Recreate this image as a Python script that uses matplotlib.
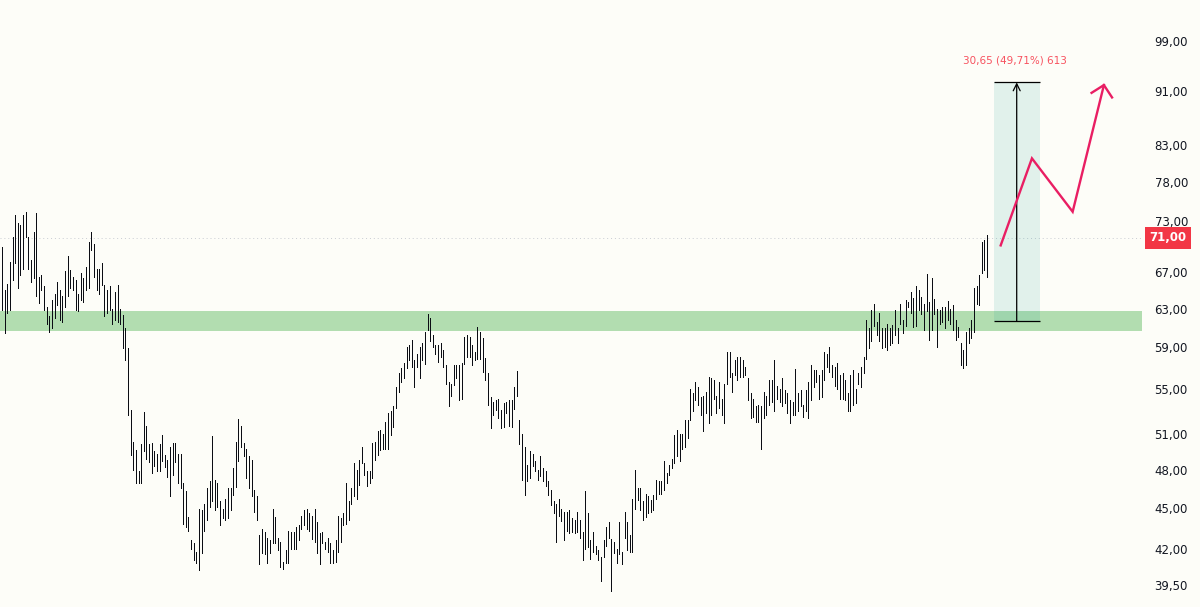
import matplotlib
matplotlib.use("Agg")
import matplotlib.pyplot as plt
import numpy as np

# bar highs / lows, left to right
highs = [
    69.9, 65.0, 65.7, 68.2, 71.1, 73.8, 72.8, 72.6, 73.8, 74.2,
    71.1, 68.4, 71.7, 74.1, 66.5, 66.7, 65.4, 63.2, 62.2, 63.9,
    64.6, 65.9, 65.0, 64.4, 67.1, 68.8, 67.3, 66.5, 66.1, 64.6,
    66.9, 66.3, 67.6, 70.5, 71.7, 70.3, 67.4, 67.4, 68.0, 65.6,
    65.0, 65.5, 63.0, 64.8, 65.6, 63.0, 62.3, 61.0, 58.9, 53.1,
    50.3, 49.6, 47.9, 50.1, 52.9, 51.7, 50.1, 50.2, 49.5, 49.3,
    50.1, 50.9, 49.2,
    48.8, 49.9, 50.2, 50.2, 49.3, 49.3, 46.9, 46.3, 44.3, 42.6,
    42.4, 41.8, 44.9, 44.8, 45.3, 46.5, 47.1, 50.8, 47.2, 46.9,
    45.5, 44.9, 45.7, 46.5, 46.5, 48.1, 50.3, 52.3, 51.7, 50.2,
    49.7, 49.1, 48.8, 46.4, 45.9, 43.0, 43.4, 43.2, 42.8, 42.6,
    44.9, 44.3, 42.8, 42.5, 41.1, 41.9, 43.3, 43.2, 43.2, 43.6,
    43.7, 44.4, 44.8, 44.9, 44.6, 44.4, 44.9,
    43.9, 43.1, 43.2, 42.5, 42.8, 42.4, 41.9, 42.6, 44.4, 44.2,
    44.6, 46.9, 45.5, 46.5, 48.5, 48.0, 48.8, 49.9, 48.5, 47.9,
    47.9, 50.2, 50.3, 51.2, 51.3, 51.0, 52.0, 52.8, 53.0, 53.4,
    55.2, 56.5, 57.0, 57.5, 59.0, 59.2, 59.7, 57.8, 58.4, 59.0,
    59.4, 60.6, 62.4, 62.0, 60.3, 59.2, 59.2, 59.4, 58.7, 57.3,
    55.7, 55.5, 57.3, 57.3, 57.3, 57.5, 60.1, 60.3, 60.1, 59.2,
    58.5, 61.1, 60.6, 59.9,
    58.0, 56.5, 54.3, 53.8, 54.0, 54.1, 53.1, 53.7, 53.8, 54.0,
    54.0, 55.2, 56.7, 52.2, 51.0, 49.9, 48.4, 49.5, 49.3, 48.7,
    48.0, 49.1, 48.1, 47.9, 47.1, 46.4, 45.5, 45.3, 45.7, 44.9,
    44.7, 44.7, 44.8, 44.2, 44.1, 44.7, 44.1, 43.2, 46.3, 44.6,
    42.6, 43.2, 42.2, 41.9, 41.4, 42.6, 43.6, 43.9, 42.7, 42.5,
    42.0, 43.9, 41.8, 44.7, 43.9, 43.0, 45.7, 48.0, 46.5, 46.5,
    45.5, 46.1, 45.9, 45.6,
    46.0, 47.2, 47.1, 47.1, 48.7, 47.7, 48.4, 48.9, 50.9, 51.3,
    51.0, 51.0, 52.2, 52.2, 55.0, 54.6, 55.7, 55.2, 54.3, 54.4,
    54.7, 56.1, 56.0, 55.8, 54.4, 55.7, 54.1, 55.5, 58.5, 58.5,
    56.5, 57.8, 58.1, 58.1, 57.8, 57.1, 56.0, 54.6, 54.1, 53.4,
    53.5, 53.4, 54.7, 54.4, 55.8, 55.8, 57.8, 55.3, 55.0, 56.0,
    54.9, 54.6, 54.0, 53.8, 56.9, 54.6, 54.9, 53.5, 54.9, 55.7,
    57.3, 56.8, 56.8,
    56.3, 56.8, 58.5, 58.4, 59.0, 57.3, 57.1, 57.5, 56.3, 56.5,
    55.8, 54.6, 56.3, 56.8, 55.0, 56.5, 57.1, 58.1, 61.8, 61.0,
    62.9, 63.5, 61.6, 62.5, 61.0, 61.0, 61.4, 61.0, 61.3, 62.9,
    61.0, 63.5, 61.8, 63.9, 63.7, 64.8, 64.1, 65.5, 65.0, 64.3,
    63.5, 66.8, 63.7, 66.3, 64.0, 63.0, 62.9, 63.2, 63.2, 63.8,
    63.0, 63.4, 61.8, 61.1, 59.4, 58.7, 60.6, 61.0, 61.8, 65.2,
    65.4, 66.7, 70.5, 70.7, 71.4,
]
lows = [
    62.9, 60.5, 62.5, 62.9, 66.1, 68.0, 65.2, 66.7, 67.4, 71.1,
    67.4, 65.9, 66.3, 64.4, 63.6, 65.0, 62.9, 61.4, 60.6, 61.0,
    62.0, 63.4, 61.8, 61.6, 63.2, 64.4, 65.2, 65.0, 62.9, 62.7,
    63.9, 63.7, 65.0, 65.2, 69.6, 66.5, 65.0, 64.6, 65.6, 62.2,
    62.5, 62.9, 61.4, 61.8, 61.6, 61.4, 58.9, 57.8, 52.6, 49.2,
    48.0, 46.9, 46.9, 46.9, 49.5, 48.9, 48.6, 47.7, 48.3, 47.9,
    47.9, 48.7, 48.2,
    47.4, 45.9, 47.6, 48.6, 46.9, 46.5, 43.8, 43.6, 43.3, 42.0,
    41.2, 41.0, 40.5, 41.7, 43.3, 44.1, 45.1, 45.5, 44.8, 45.1,
    43.7, 44.2, 44.1, 44.2, 44.8, 46.0, 46.6, 48.7, 49.9, 49.1,
    47.3, 46.5, 45.9, 44.7, 44.1, 40.9, 41.7, 41.6, 41.0, 41.7,
    42.4, 42.4, 41.9, 40.7, 40.6, 41.0, 41.0, 42.0, 42.0, 42.0,
    42.6, 43.4, 43.7, 43.4, 43.3, 42.7, 42.5,
    41.7, 40.9, 42.4, 42.0, 41.8, 41.0, 41.0, 41.1, 41.8, 42.5,
    43.7, 43.8, 44.1, 45.3, 45.9, 45.7, 46.8, 48.5, 47.6, 46.7,
    46.9, 47.3, 48.8, 49.2, 49.6, 49.7, 49.7, 49.7, 50.9, 51.6,
    53.3, 54.7, 55.7, 56.0, 57.0, 57.8, 57.1, 55.2, 57.1, 56.0,
    57.8, 57.4, 60.8, 59.6, 59.0, 58.4, 57.6, 58.1, 57.1, 55.5,
    53.4, 54.4, 55.4, 56.0, 54.0, 54.1, 57.4, 58.1, 58.1, 57.3,
    57.8, 57.9, 57.9, 56.6,
    55.8, 53.5, 51.5, 52.6, 53.1, 52.4, 51.5, 51.6, 52.8, 51.7,
    51.6, 53.2, 54.4, 50.1, 47.2, 46.0, 47.1, 47.3, 48.3, 47.9,
    47.2, 47.5, 47.1, 46.7, 46.0, 45.2, 44.6, 42.5, 44.4, 44.0,
    42.6, 43.3, 43.1, 43.2, 43.1, 43.2, 42.8, 41.2, 42.0, 42.1,
    41.3, 41.8, 41.6, 41.2, 39.8, 41.4, 42.2, 42.8, 39.1, 41.7,
    41.0, 41.6, 40.9, 42.8, 41.9, 41.8, 41.8, 44.9, 45.6, 44.8,
    44.1, 44.3, 44.6, 44.7,
    44.8, 45.7, 46.1, 46.1, 46.4, 46.9, 47.6, 48.1, 48.5, 49.1,
    48.7, 49.7, 49.9, 50.6, 52.2, 53.0, 54.0, 53.5, 52.6, 51.2,
    52.8, 51.9, 52.6, 54.1, 52.8, 53.3, 52.6, 51.9, 55.5, 56.1,
    54.7, 56.3, 55.8, 56.1, 56.1, 56.3, 54.0, 52.4, 52.5, 52.0,
    52.0, 49.7, 52.4, 52.6, 53.5, 53.8, 53.0, 54.1, 53.8, 53.4,
    53.7, 52.8, 51.9, 52.6, 52.6, 53.0, 53.4, 52.5, 53.0, 52.4,
    54.0, 55.2, 55.7,
    54.1, 54.3, 55.8, 57.1, 56.6, 56.1, 55.3, 55.0, 54.1, 54.1,
    54.0, 53.0, 53.0, 53.5, 53.7, 55.5, 55.2, 56.5, 57.9, 58.9,
    59.6, 61.2, 60.3, 59.6, 58.9, 59.0, 58.7, 59.2, 59.4, 60.3,
    59.4, 61.4, 60.5, 61.2, 63.2, 62.5, 61.1, 61.2, 62.9, 62.4,
    60.8, 62.7, 59.7, 60.8, 62.4, 59.0, 61.4, 61.6, 61.0, 61.8,
    61.4, 60.8, 59.7, 60.1, 57.3, 57.0, 57.3, 59.4, 59.9, 60.6,
    63.5, 63.4, 66.9, 67.3, 66.5,
]

price_ticks = [39.5, 42, 45, 48, 51, 55, 59, 63, 67, 73, 78, 83, 91, 99]
last_price = 71.00

# support zone and measured move
zone_low, zone_high = 60.65, 62.75
measure_low, measure_high = 61.66, 92.31
measure_label = "30,65 (49,71%) 613"

# projected path (bar index, price)
path_x = [380.2, 392.1, 407.6, 419.5]
path_y = [70.1, 81.2, 74.2, 91.9]
head_x = [414.8, 419.5, 422.6]
head_y = [90.7, 91.9, 90.0]

bg = "#fdfdf8"
fig = plt.figure(figsize=(12, 6.07), dpi=100, facecolor=bg)
ax = fig.add_axes([0, 0, 1142 / 1200, 1])
ax.set_facecolor(bg)

x = np.arange(len(highs))
ax.vlines(x, lows, highs, color="#0b0d14", linewidth=0.72, antialiased=False, zorder=3)

ax.axhspan(zone_low, zone_high, color="#b2ddb0", zorder=1, lw=0)
ax.axhline(last_price, color="#c9ccd3", linestyle=(0, (1, 3)), linewidth=0.7, zorder=0)

# measure box
bx0, bx1, bxm = 377.6, 395.1, 386.3
ax.fill_between([bx0, bx1], measure_low, measure_high, color="#26a69a", alpha=0.13, lw=0, zorder=2)
ax.hlines([measure_low, measure_high], bx0, bx1, color="black", linewidth=0.9, zorder=4)
ax.annotate("", xy=(bxm, measure_high), xytext=(bxm, measure_low),
            arrowprops=dict(arrowstyle="->,head_length=0.5,head_width=0.25", color="black", lw=0.9,
                            shrinkA=0, shrinkB=0), zorder=4)
ax.text(bxm - 0.5, 95.8, measure_label, color="#f7525f", fontsize=7.5, ha="center", va="center")

ax.plot(path_x, path_y, color="#e91e63", linewidth=1.7, solid_joinstyle="miter", zorder=5)
ax.plot(head_x, head_y, color="#e91e63", linewidth=1.7, solid_joinstyle="miter", zorder=5)

ax.set_yscale("log")
ax.set_ylim(38.06, 106.1)
ax.set_xlim(-0.76, 434)
ax.set_xticks([])
ax.yaxis.tick_right()
ax.set_yticks(price_ticks)
ax.set_yticklabels([f"{v:.2f}".replace(".", ",") for v in price_ticks])
ax.yaxis.set_minor_locator(matplotlib.ticker.NullLocator())
ax.tick_params(axis="y", length=0, pad=9, labelsize=8.5, labelcolor="#131722")
for s in ax.spines.values():
    s.set_visible(False)

ax.text(1.0228, last_price, f"{last_price:.2f}".replace(".", ","), transform=ax.get_yaxis_transform(),
        ha="center", va="center", color="white", fontsize=8.5, fontweight="bold", clip_on=False,
        bbox=dict(boxstyle="square,pad=0.38", facecolor="#f23645", edgecolor="none"))

fig.savefig("out.png", dpi=100, facecolor=bg)
